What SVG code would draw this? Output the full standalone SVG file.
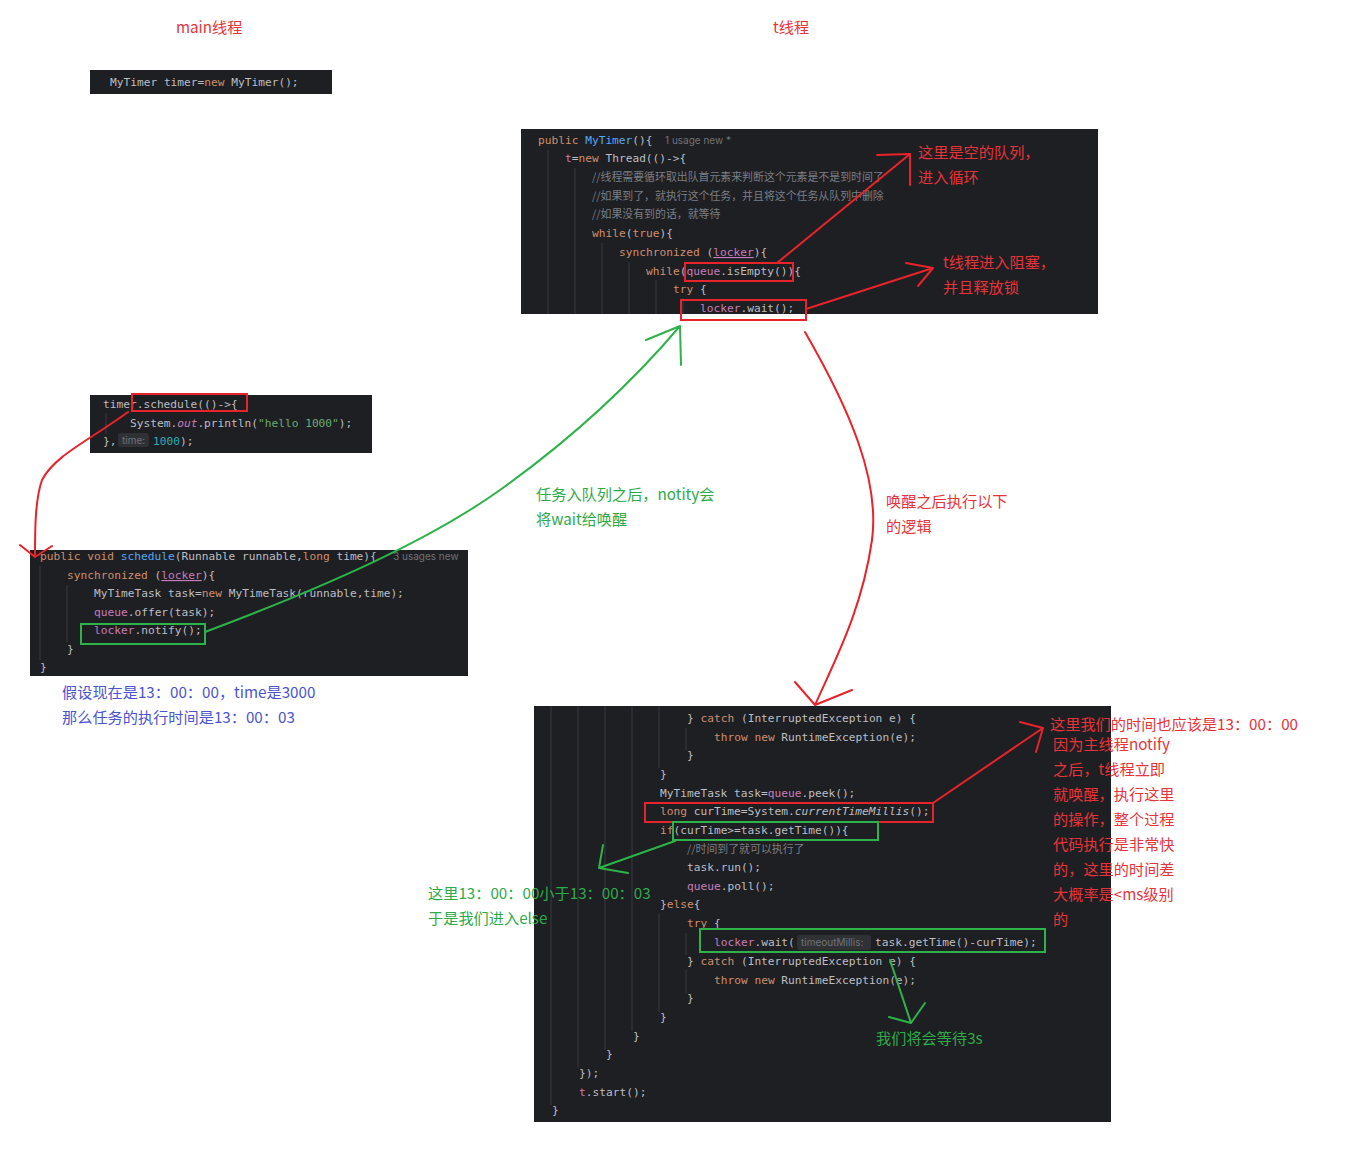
<svg xmlns="http://www.w3.org/2000/svg" width="1357" height="1160" viewBox="0 0 1357 1160">
<style>
.bg{fill:#1e1f22}
.code{font-family:"DejaVu Sans Mono","Liberation Mono",monospace;font-size:11.2px;fill:#bcbec4;white-space:pre}
.k{fill:#cf8e6d}.f{fill:#56a8f5}.p{fill:#c77dbb}.s{fill:#6aab73}.n{fill:#2aacb8}.i{font-style:italic}
.cm{font-family:"Noto Sans CJK SC",sans-serif;font-size:10.9px;fill:#7a7e85}
.hint{font-family:Inter,"Noto Sans",sans-serif;font-size:10px;fill:#6f737a}
.hb{fill:#2f3135}
.guide{stroke:#393b40;stroke-width:1}
.ann{font-family:"Noto Sans CJK SC",sans-serif;font-size:15.2px}
.red{fill:#e8333a}.green{fill:#2eaa4a}.blue{fill:#4b55d2}
.rl{stroke:#e8232b;stroke-width:2;fill:none;stroke-linecap:round;stroke-linejoin:round}
.gl{stroke:#2db34a;stroke-width:2;fill:none;stroke-linecap:round;stroke-linejoin:round}
.rb{stroke:#e8232b;stroke-width:2;fill:none}
.gb{stroke:#2db34a;stroke-width:2;fill:none}
</style>

<g id="title-main"><text class="ann red" x="176" y="33">main线程</text></g>
<g id="title-t"><text class="ann red" x="773" y="33">t线程</text></g>

<g id="node-new-timer" xml:space="preserve">
<rect class="bg" x="90" y="70" width="242" height="24"/>
<text class="code" x="110" y="86">MyTimer timer=<tspan class="k">new</tspan> MyTimer();</text>
</g>

<g id="node-constructor" xml:space="preserve">
<rect class="bg" x="521" y="129" width="577" height="185"/>
<line class="guide" x1="548" y1="150" x2="548" y2="314"/>
<line class="guide" x1="575" y1="168" x2="575" y2="314"/>
<line class="guide" x1="602" y1="243" x2="602" y2="314"/>
<line class="guide" x1="629" y1="262" x2="629" y2="314"/>
<line class="guide" x1="656" y1="280" x2="656" y2="314"/>
<line class="guide" x1="683" y1="298" x2="683" y2="314"/>
<text class="code" x="538" y="144"><tspan class="k">public</tspan> <tspan class="f">MyTimer</tspan>(){</text>
<text class="hint" x="665" y="144">1 usage   new *</text>
<text class="code" x="565" y="162"><tspan class="p">t</tspan>=<tspan class="k">new</tspan> Thread(()-&gt;{</text>
<text class="cm" x="592" y="181">//线程需要循环取出队首元素来判断这个元素是不是到时间了</text>
<text class="cm" x="592" y="200">//如果到了，就执行这个任务，并且将这个任务从队列中删除</text>
<text class="cm" x="592" y="218">//如果没有到的话，就等待</text>
<text class="code" x="592" y="237"><tspan class="k">while</tspan>(<tspan class="k">true</tspan>){</text>
<text class="code" x="619" y="256"><tspan class="k">synchronized</tspan> (<tspan class="p" text-decoration="underline">locker</tspan>){</text>
<text class="code" x="646" y="275"><tspan class="k">while</tspan>(<tspan class="p">queue</tspan>.isEmpty()){</text>
<text class="code" x="673" y="293"><tspan class="k">try</tspan> {</text>
<text class="code" x="700" y="312"><tspan class="p">locker</tspan>.wait();</text>
<rect class="rb" x="685" y="263" width="108" height="18"/>
<rect class="rb" x="681" y="300" width="125" height="20"/>
</g>

<g id="node-schedule-call" xml:space="preserve">
<rect class="bg" x="90" y="395" width="282" height="58"/>
<line class="guide" x1="106" y1="413" x2="106" y2="434"/>
<text class="code" x="103" y="408">timer.schedule(()-&gt;{</text>
<text class="code" x="130" y="427">System.<tspan class="p i">out</tspan>.println(<tspan class="s">"hello 1000"</tspan>);</text>
<rect class="hb" x="118" y="433" width="31" height="14" rx="3"/>
<text class="code" x="103" y="445">},</text>
<text class="hint" x="122" y="444">time:</text>
<text class="code" x="153" y="445"><tspan class="n">1000</tspan>);</text>
<rect class="rb" x="132" y="394" width="115" height="17"/>
</g>

<g id="node-schedule-method" xml:space="preserve">
<rect class="bg" x="30" y="550" width="438" height="126"/>
<line class="guide" x1="40" y1="566" x2="40" y2="660"/>
<line class="guide" x1="67" y1="585" x2="67" y2="642"/>
<text class="code" x="40" y="560"><tspan class="k">public void</tspan> <tspan class="f">schedule</tspan>(Runnable runnable,<tspan class="k">long</tspan> time){</text>
<text class="hint" x="393" y="560">3 usages   new</text>
<text class="code" x="67" y="579"><tspan class="k">synchronized</tspan> (<tspan class="p" text-decoration="underline">locker</tspan>){</text>
<text class="code" x="94" y="597">MyTimeTask task=<tspan class="k">new</tspan> MyTimeTask(runnable,time);</text>
<text class="code" x="94" y="616"><tspan class="p">queue</tspan>.offer(task);</text>
<text class="code" x="94" y="634"><tspan class="p">locker</tspan>.notify();</text>
<text class="code" x="67" y="653">}</text>
<text class="code" x="40" y="671">}</text>
<rect class="gb" x="81" y="624" width="124" height="20"/>
</g>

<g id="node-run-body" xml:space="preserve">
<rect class="bg" x="534" y="706" width="577" height="416"/>
<line class="guide" x1="551" y1="706" x2="551" y2="1105"/>
<line class="guide" x1="578" y1="706" x2="578" y2="1068"/>
<line class="guide" x1="605" y1="706" x2="605" y2="1050"/>
<line class="guide" x1="632" y1="706" x2="632" y2="1031"/>
<line class="guide" x1="659" y1="706" x2="659" y2="768"/>
<line class="guide" x1="686" y1="728" x2="686" y2="750"/>
<line class="guide" x1="659" y1="914" x2="659" y2="1012"/>
<line class="guide" x1="686" y1="933" x2="686" y2="955"/>
<line class="guide" x1="686" y1="970" x2="686" y2="993"/>
<text class="code" x="687" y="722">} <tspan class="k">catch</tspan> (InterruptedException e) {</text>
<text class="code" x="714" y="741"><tspan class="k">throw new</tspan> RuntimeException(e);</text>
<text class="code" x="687" y="759">}</text>
<text class="code" x="660" y="778">}</text>
<text class="code" x="660" y="797">MyTimeTask task=<tspan class="p">queue</tspan>.peek();</text>
<text class="code" x="660" y="815"><tspan class="k">long</tspan> curTime=System.<tspan class="i">currentTimeMillis</tspan>();</text>
<text class="code" x="660" y="834"><tspan class="k">if</tspan>(curTime&gt;=task.getTime()){</text>
<text class="cm" x="687" y="853">//时间到了就可以执行了</text>
<text class="code" x="687" y="871">task.run();</text>
<text class="code" x="687" y="890"><tspan class="p">queue</tspan>.poll();</text>
<text class="code" x="660" y="908">}<tspan class="k">else</tspan>{</text>
<text class="code" x="687" y="927"><tspan class="k">try</tspan> {</text>
<rect class="hb" x="797" y="935" width="74" height="15" rx="3"/>
<text class="code" x="714" y="946"><tspan class="p">locker</tspan>.wait(</text>
<text class="hint" x="801" y="946">timeoutMillis:</text>
<text class="code" x="875" y="946">task.getTime()-curTime);</text>
<text class="code" x="687" y="965">} <tspan class="k">catch</tspan> (InterruptedException e) {</text>
<text class="code" x="714" y="984"><tspan class="k">throw new</tspan> RuntimeException(e);</text>
<text class="code" x="687" y="1002">}</text>
<text class="code" x="660" y="1021">}</text>
<text class="code" x="633" y="1040">}</text>
<text class="code" x="606" y="1058">}</text>
<text class="code" x="579" y="1077">});</text>
<text class="code" x="579" y="1096"><tspan class="p">t</tspan>.start();</text>
<text class="code" x="552" y="1114">}</text>
<rect class="rb" x="645" y="803" width="288" height="19"/>
<rect class="gb" x="673" y="822" width="205" height="18"/>
<rect class="gb" x="700" y="929" width="345" height="23"/>
</g>

<g id="connectors">
<path class="rl" d="M777,263 L910,154 M877,155 L910,154 L910,185"/>
<path class="rl" d="M806,309 L933,268 M906,263 L933,268 L918,286"/>
<path class="rl" d="M128,412 C90,440 55,455 42,480 C35,500 35,530 35,556 M20,545 L35,557 L52,546"/>
<path class="gl" d="M205,632 C330,585 430,540 500,490 C570,440 630,385 680,326 M646,340 L680,326 L681,365"/>
<path class="rl" d="M805,332 C850,410 880,480 872,540 C862,610 835,660 815,705 M795,682 L815,705 L852,690"/>
<path class="rl" d="M933,803 L1043,728 M1020,722 L1043,728 L1036,752"/>
<path class="gl" d="M675,841 L599,868 M603,845 L599,868 L628,873"/>
<path class="gl" d="M890,960 L911,1023 M889,1017 L911,1023 L925,1003"/>
</g>

<g id="notes">
<text class="ann red" x="918" y="158">这里是空的队列，</text>
<text class="ann red" x="918" y="183">进入循环</text>
<text class="ann red" x="943" y="268">t线程进入阻塞，</text>
<text class="ann red" x="943" y="293">并且释放锁</text>
<text class="ann blue" x="62" y="698">假设现在是13：00：00，time是3000</text>
<text class="ann blue" x="62" y="723">那么任务的执行时间是13：00：03</text>
<text class="ann green" x="536" y="500">任务入队列之后，notity会</text>
<text class="ann green" x="536" y="525">将wait给唤醒</text>
<text class="ann red" x="886" y="507">唤醒之后执行以下</text>
<text class="ann red" x="886" y="532">的逻辑</text>
<text class="ann red" x="1050" y="730">这里我们的时间也应该是13：00：00</text>
<text class="ann red" x="1053" y="750">因为主线程notify</text>
<text class="ann red" x="1053" y="775">之后，t线程立即</text>
<text class="ann red" x="1053" y="800">就唤醒，执行这里</text>
<text class="ann red" x="1053" y="825">的操作，整个过程</text>
<text class="ann red" x="1053" y="850">代码执行是非常快</text>
<text class="ann red" x="1053" y="875">的，这里的时间差</text>
<text class="ann red" x="1053" y="900">大概率是&lt;ms级别</text>
<text class="ann red" x="1053" y="925">的</text>
<text class="ann green" x="428" y="899">这里13：00：00小于13：00：03</text>
<text class="ann green" x="428" y="924">于是我们进入else</text>
<text class="ann green" x="876" y="1044">我们将会等待3s</text>
</g>
</svg>
